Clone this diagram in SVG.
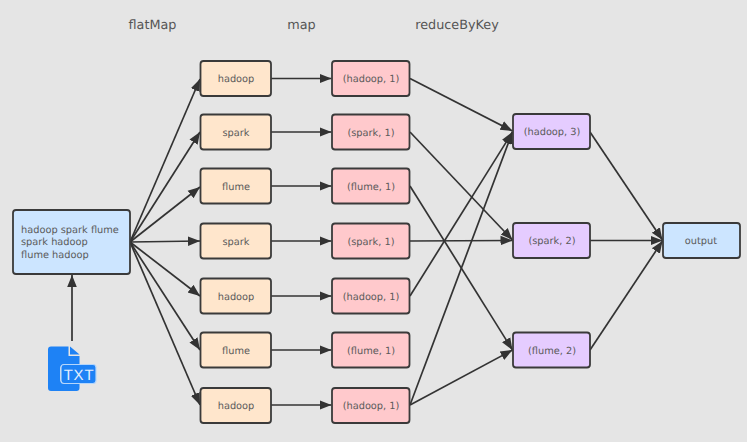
<svg xmlns="http://www.w3.org/2000/svg" width="747" height="442" viewBox="0 0 747 442">
<style>
text{font-family:"DejaVu Sans",Verdana,sans-serif;font-size:9.8px;fill:#5a5a5a;text-anchor:middle;text-rendering:geometricPrecision}
.h{font-size:12.8px;fill:#555}
.b{stroke:#3a3a3a;stroke-width:1.8}
.o{fill:#ffe6cc}.p{fill:#ffc9cc}.v{fill:#e5ccff}.u{fill:#cce5ff}
#edges line{stroke:#333;stroke-width:1.7;marker-end:url(#a)}
</style>
<defs>
<marker id="a" markerUnits="userSpaceOnUse" markerWidth="13" markerHeight="12" refX="12" refY="6" orient="auto"><path d="M0 1.200L12 6L0 10.800z" fill="#333"/></marker>
</defs>
<rect width="747" height="442" fill="#e5e5e5"/>
<text class="h" x="152.500" y="29">flatMap</text>
<text class="h" x="301.500" y="29">map</text>
<text class="h" x="457" y="29">reduceByKey</text>
<g id="edges">
<line x1="72" y1="341" x2="72" y2="275"/>
<line x1="130" y1="242" x2="200" y2="79"/>
<line x1="130" y1="242" x2="200" y2="132"/>
<line x1="130" y1="242" x2="200" y2="187"/>
<line x1="130" y1="242" x2="200" y2="241"/>
<line x1="130" y1="242" x2="200" y2="296"/>
<line x1="130" y1="242" x2="200" y2="350"/>
<line x1="130" y1="242" x2="200" y2="405"/>
<line x1="271" y1="78.500" x2="331.500" y2="78.500"/>
<line x1="271" y1="132" x2="331.500" y2="132"/>
<line x1="271" y1="186" x2="331.500" y2="186"/>
<line x1="271" y1="241" x2="331.500" y2="241"/>
<line x1="271" y1="296" x2="331.500" y2="296"/>
<line x1="271" y1="350" x2="331.500" y2="350"/>
<line x1="271" y1="405" x2="331.500" y2="405"/>
<line x1="410" y1="78.500" x2="512.500" y2="131"/>
<line x1="410" y1="132" x2="512.500" y2="240"/>
<line x1="410" y1="186" x2="512.500" y2="350"/>
<line x1="410" y1="241" x2="512.500" y2="240.500"/>
<line x1="410" y1="296" x2="512.500" y2="132"/>
<line x1="410" y1="405" x2="512.500" y2="132"/>
<line x1="410" y1="405" x2="512.500" y2="350"/>
<line x1="590" y1="132" x2="662.500" y2="240"/>
<line x1="590" y1="240.500" x2="662.500" y2="240.500"/>
<line x1="590" y1="350" x2="662.500" y2="241"/>
</g>
<g id="source"><rect class="b u" x="13" y="210" width="117" height="64" rx="3"/>
<text x="21" y="233" style="text-anchor:start">hadoop spark flume</text>
<text x="21" y="245" style="text-anchor:start">spark hadoop</text>
<text x="21" y="257.500" style="text-anchor:start">flume hadoop</text></g>
<g id="txt-icon">
<path d="M51 346.500H68.500V356H79.500V364H65a5 5 0 0 0-5 5V379a5 5 0 0 0 5 5H79.500V388a3 3 0 0 1-3 3H51a3 3 0 0 1-3-3V349.500a3 3 0 0 1 3-3z" fill="#1e82f5"/>
<path d="M70 346.500L79.500 354.500H70z" fill="#1e82f5"/>
<rect x="61" y="364.500" width="35" height="19" rx="3" fill="#1e82f5" stroke="#b5d6fb" stroke-width="1.200"/>
<text x="79" y="380" style="font-size:15px;fill:#e3effe;font-family:'Liberation Sans',sans-serif;letter-spacing:.8px">TXT</text>
</g>
<g id="f1"><rect class="b o" x="200.500" y="61" width="70.500" height="35" rx="3"/><text x="236" y="82">hadoop</text></g>
<g id="f2"><rect class="b o" x="200.500" y="114.500" width="70.500" height="35" rx="3"/><text x="236" y="135.500">spark</text></g>
<g id="f3"><rect class="b o" x="200.500" y="168.500" width="70.500" height="35" rx="3"/><text x="236" y="189.500">flume</text></g>
<g id="f4"><rect class="b o" x="200.500" y="223.500" width="70.500" height="35" rx="3"/><text x="236" y="244.500">spark</text></g>
<g id="f5"><rect class="b o" x="200.500" y="278.500" width="70.500" height="35" rx="3"/><text x="236" y="299.500">hadoop</text></g>
<g id="f6"><rect class="b o" x="200.500" y="332.500" width="70.500" height="35" rx="3"/><text x="236" y="353.500">flume</text></g>
<g id="f7"><rect class="b o" x="200.500" y="388" width="70.500" height="35" rx="3"/><text x="236" y="409">hadoop</text></g>
<g id="m1"><rect class="b p" x="332" y="61" width="77.500" height="35" rx="3"/><text x="371" y="82">(hadoop, 1)</text></g>
<g id="m2"><rect class="b p" x="332" y="114.500" width="77.500" height="35" rx="3"/><text x="371" y="135.500">(spark, 1)</text></g>
<g id="m3"><rect class="b p" x="332" y="168.500" width="77.500" height="35" rx="3"/><text x="371" y="189.500">(flume, 1)</text></g>
<g id="m4"><rect class="b p" x="332" y="223.500" width="77.500" height="35" rx="3"/><text x="371" y="244.500">(spark, 1)</text></g>
<g id="m5"><rect class="b p" x="332" y="278.500" width="77.500" height="35" rx="3"/><text x="371" y="299.500">(hadoop, 1)</text></g>
<g id="m6"><rect class="b p" x="332" y="332.500" width="77.500" height="35" rx="3"/><text x="371" y="353.500">(flume, 1)</text></g>
<g id="m7"><rect class="b p" x="332" y="388" width="77.500" height="35" rx="3"/><text x="371" y="409">(hadoop, 1)</text></g>
<g id="r1"><rect class="b v" x="513" y="114" width="77" height="35" rx="3"/><text x="552" y="135">(hadoop, 3)</text></g>
<g id="r2"><rect class="b v" x="513" y="223" width="77" height="35" rx="3"/><text x="552" y="244">(spark, 2)</text></g>
<g id="r3"><rect class="b v" x="513" y="332.500" width="77" height="35" rx="3"/><text x="552" y="353.500">(flume, 2)</text></g>
<g id="output"><rect class="b u" x="663" y="223" width="77" height="35" rx="3"/><text x="701" y="244">output</text></g>
</svg>
